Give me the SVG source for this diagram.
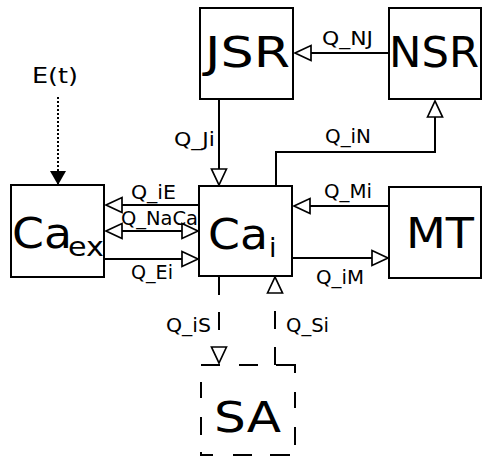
<svg xmlns="http://www.w3.org/2000/svg" width="482" height="459" viewBox="0 0 482 459">
<style>
.box{fill:none;stroke:#000;stroke-width:2}
.big{font-family:"DejaVu Sans","Liberation Sans",sans-serif;font-size:43px;fill:#000}
.sub{font-family:"DejaVu Sans","Liberation Sans",sans-serif;font-size:27px;fill:#000}
.lbl{font-family:"DejaVu Sans","Liberation Sans",sans-serif;font-size:19px;fill:#000}
.et{font-size:21px}
.conn{fill:none;stroke:#000;stroke-width:2}
.dash{stroke-dasharray:18 17}
.dot{stroke-dasharray:2 2}
</style>
<defs>
<marker id="hollow" markerUnits="userSpaceOnUse" markerWidth="20" markerHeight="18" refX="17" refY="9" orient="auto-start-reverse" overflow="visible">
<path d="M1,1.5 L17,9 L1,16.5 Z" fill="#fff" stroke="#000" stroke-width="1.7"/>
</marker>
<marker id="solid" markerUnits="userSpaceOnUse" markerWidth="16" markerHeight="18" refX="14" refY="9" orient="auto" overflow="visible">
<path d="M0,1 L14,9 L0,17 Z" fill="#000"/>
</marker>
</defs>

<g id="connectors">
<path class="conn" d="M389,53 H295" marker-end="url(#hollow)"/>
<path class="conn" d="M219,99 V185" marker-end="url(#hollow)"/>
<path class="conn" d="M276,186 V152 H435 V101" marker-end="url(#hollow)"/>
<path class="conn" d="M389,206 H294" marker-end="url(#hollow)"/>
<path class="conn" d="M292,258 H388" marker-end="url(#hollow)"/>
<path class="conn" d="M199,205 H106" marker-end="url(#hollow)"/>
<path class="conn" d="M106,231 H198" marker-start="url(#hollow)" marker-end="url(#hollow)"/>
<path class="conn" d="M104,259 H198" marker-end="url(#hollow)"/>
<path class="conn dot" d="M58,97 V172"/>
<path class="conn" d="M58,171 V185" stroke="none" marker-end="url(#solid)"/>
<path class="conn dash" d="M219,277 V363" marker-end="url(#hollow)"/>
<path class="conn" d="M275,365 V277" stroke-dasharray="18 18" marker-end="url(#hollow)"/>
<text class="lbl et" x="32" y="83" textLength="46" lengthAdjust="spacingAndGlyphs">E(t)</text>
<text class="lbl" x="322" y="45" textLength="51" lengthAdjust="spacingAndGlyphs">Q_NJ</text>
<text class="lbl" x="174" y="146" textLength="41" lengthAdjust="spacingAndGlyphs">Q_Ji</text>
<text class="lbl" x="325" y="143" textLength="46" lengthAdjust="spacingAndGlyphs">Q_iN</text>
<text class="lbl" x="131" y="199" textLength="45" lengthAdjust="spacingAndGlyphs">Q_iE</text>
<text class="lbl" x="121" y="225" textLength="77" lengthAdjust="spacingAndGlyphs">Q_NaCa</text>
<text class="lbl" x="131" y="279" textLength="42" lengthAdjust="spacingAndGlyphs">Q_Ei</text>
<text class="lbl" x="324" y="198" textLength="48" lengthAdjust="spacingAndGlyphs">Q_Mi</text>
<text class="lbl" x="316" y="284" textLength="48" lengthAdjust="spacingAndGlyphs">Q_iM</text>
<text class="lbl" x="166" y="332" textLength="45" lengthAdjust="spacingAndGlyphs">Q_iS</text>
<text class="lbl" x="286" y="332" textLength="43" lengthAdjust="spacingAndGlyphs">Q_Si</text>
</g>

<g id="JSR">
<rect class="box" x="200" y="8" width="93" height="91"/>
<text class="big" x="205" y="67" textLength="85" lengthAdjust="spacingAndGlyphs">JSR</text>
</g>
<g id="NSR">
<rect class="box" x="389" y="8" width="92" height="91"/>
<text class="big" x="389" y="67" textLength="90" lengthAdjust="spacingAndGlyphs">NSR</text>
</g>
<g id="Ca_ex">
<rect class="box" x="11" y="185" width="93" height="92"/>
<text class="big" x="12" y="248" textLength="60" lengthAdjust="spacingAndGlyphs">Ca</text>
<text class="sub" x="68" y="256" textLength="36" lengthAdjust="spacingAndGlyphs">ex</text>
</g>
<g id="Ca_i">
<rect class="box" x="199" y="186" width="93" height="90"/>
<text class="big" x="208" y="249" textLength="60" lengthAdjust="spacingAndGlyphs">Ca</text>
<text class="sub" x="269" y="257">i</text>
</g>
<g id="MT">
<rect class="box" x="389" y="187" width="92" height="91"/>
<text class="big" x="406" y="248" textLength="68" lengthAdjust="spacingAndGlyphs">MT</text>
</g>
<g id="SA">
<path class="box" d="M201,365 H220 M239,365 H258 M276,365 H295 V373 M295,392 V408 M295,427 V445 M290,455 H270 M252,455 H233 M213,455 H201 V452 M201,435 V417 M201,398 V382"/>
<text class="big" x="214" y="432" textLength="67" lengthAdjust="spacingAndGlyphs">SA</text>
</g>
</svg>
